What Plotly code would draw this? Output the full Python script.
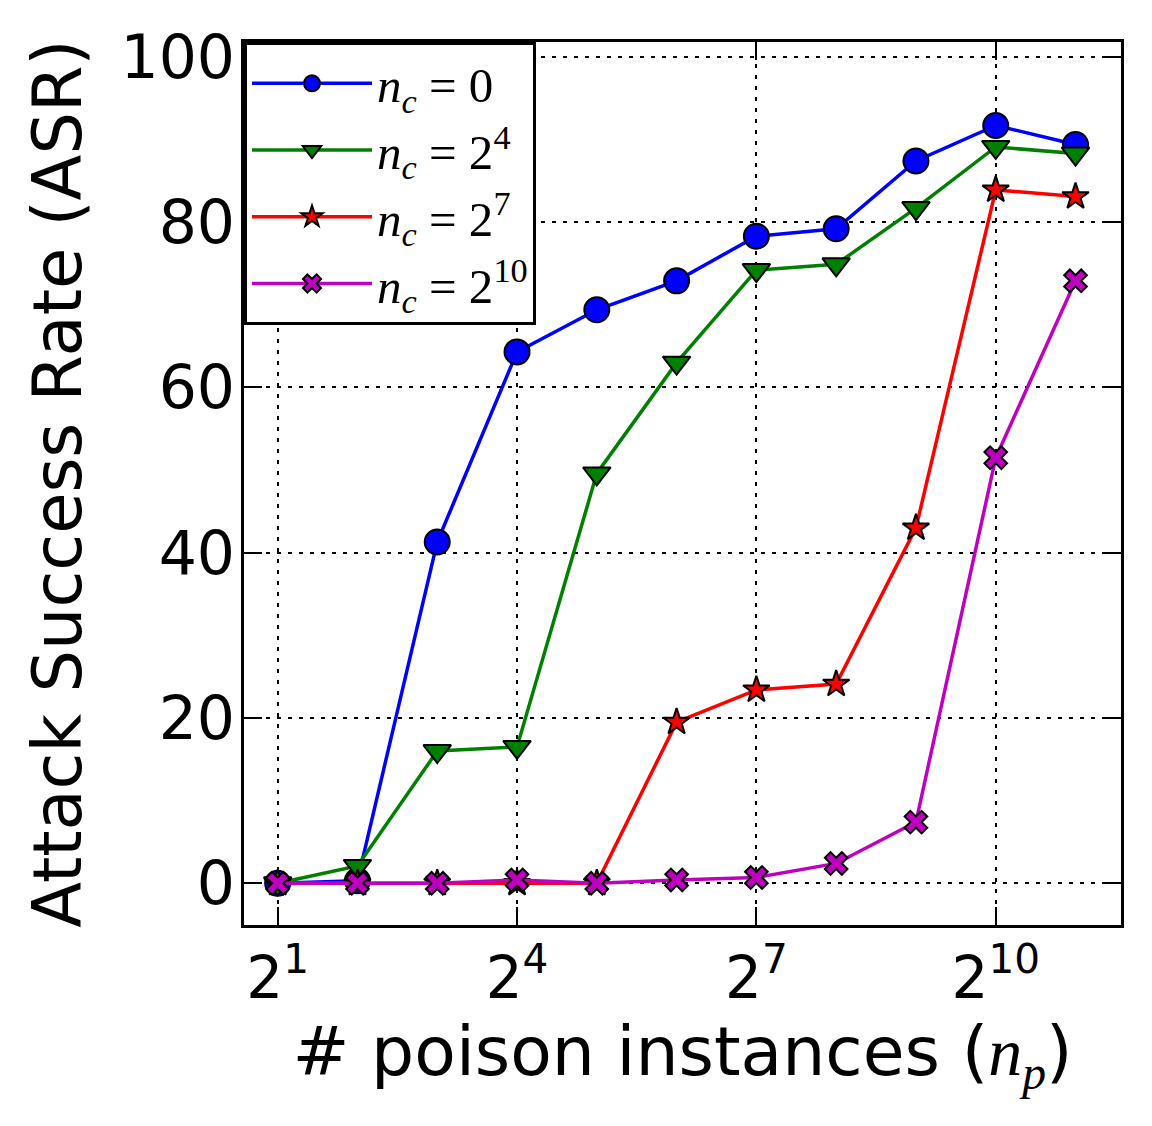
import plotly.graph_objects as go

# data
np_exponents = [1, 2, 3, 4, 5, 6, 7, 8, 9, 10, 11]
x_values = [2 ** e for e in np_exponents]

asr_nc0 = [0.0, 0.3, 41.3, 64.3, 69.4, 72.9, 78.3, 79.2, 87.4, 91.7, 89.4]
asr_nc16 = [0.0, 2.1, 16.0, 16.5, 49.6, 63.0, 74.2, 74.9, 81.7, 89.1, 88.3]
asr_nc128 = [0.0, 0.0, 0.0, 0.0, 0.0, 19.5, 23.4, 24.1, 43.0, 83.9, 83.1]
asr_nc1024 = [0.0, 0.0, 0.0, 0.4, 0.0, 0.4, 0.7, 2.4, 7.4, 51.5, 72.9]

x_tick_exponents = [1, 4, 7, 10]
y_ticks = [0, 20, 40, 60, 80, 100]

series = [
    (asr_nc0, "<i>n<sub>c</sub></i> = 0", "#0000ff", "circle", 25),
    (asr_nc16, "<i>n<sub>c</sub></i> = 2<sup>4</sup>", "#008000", "triangle-down", 24),
    (asr_nc128, "<i>n<sub>c</sub></i> = 2<sup>7</sup>", "#ff0000", "star", 20),
    (asr_nc1024, "<i>n<sub>c</sub></i> = 2<sup>10</sup>", "#bf00bf", "x", 20),
]

fig = go.Figure()
for vals, name, color, sym, size in series:
    fig.add_trace(go.Scatter(
        x=x_values, y=vals, mode="lines+markers", name=name,
        line=dict(color=color, width=3.5),
        marker=dict(symbol=sym, size=size, color=color,
                    line=dict(color="black", width=2)),
    ))

LOG2 = 0.30103
fig.update_layout(
    width=1152, height=1126,
    margin=dict(l=236, r=39, t=34, b=209),
    paper_bgcolor="white", plot_bgcolor="white",
    font=dict(family="DejaVu Sans", color="black"),
    showlegend=True,
    legend=dict(
        x=0, y=1, xanchor="left", yanchor="top",
        bgcolor="white", bordercolor="black", borderwidth=3,
        font=dict(family="Liberation Serif", size=49, color="black"),
        itemwidth=120,
    ),
)
fig.update_xaxes(
    type="log",
    range=[0.578 * LOG2, 11.57 * LOG2],
    tickvals=[2 ** e for e in x_tick_exponents],
    ticktext=[f"2<sup>{e}</sup>" for e in x_tick_exponents],
    tickfont=dict(size=58, family="DejaVu Sans"),
    ticks="inside", ticklen=18, tickwidth=2, tickcolor="black",
    showline=True, linecolor="black", linewidth=3, mirror="ticks",
    showgrid=True, gridcolor="black", gridwidth=2, griddash="4px,7px",
    zeroline=False,
    title=dict(text="# poison instances (<span style=\"font-family:'Liberation Serif'\"><i>n<sub>p</sub></i></span>)",
               font=dict(size=68, family="DejaVu Sans"), standoff=14),
)
fig.update_yaxes(
    range=[-5.05, 101.8],
    tickvals=y_ticks,
    tickfont=dict(size=60, family="DejaVu Sans"),
    ticks="inside", ticklen=18, tickwidth=2, tickcolor="black",
    ticklabelstandoff=-6,
    showline=True, linecolor="black", linewidth=3, mirror="ticks",
    showgrid=True, gridcolor="black", gridwidth=2, griddash="4px,7px",
    zeroline=False,
    title=dict(text="Attack Success Rate (ASR)", font=dict(size=67, family="DejaVu Sans"), standoff=18),
)

fig.write_html("out.html")
